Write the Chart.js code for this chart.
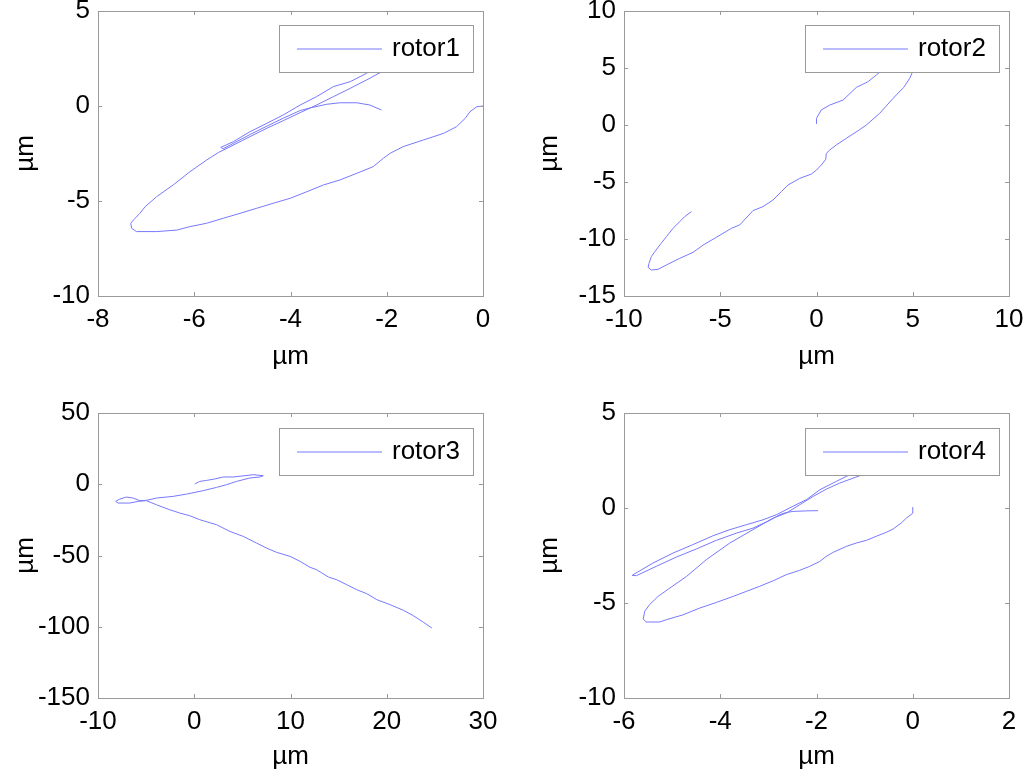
<!DOCTYPE html>
<html>
<head>
<meta charset="utf-8">
<script src="https://cdn.jsdelivr.net/npm/chart.js@4.4.0/dist/chart.umd.min.js"></script>
<style>
  body { margin: 0; background: #fff; }
  #wrap { position: relative; width: 1024px; height: 773px; overflow: hidden; }
  canvas { position: absolute; }
</style>
</head>
<body>
<div id="wrap">
  <canvas id="rotor1" width="512" height="386" style="left:0;top:0"></canvas>
  <canvas id="rotor2" width="512" height="386" style="left:512px;top:0"></canvas>
  <canvas id="rotor3" width="512" height="387" style="left:0;top:386px"></canvas>
  <canvas id="rotor4" width="512" height="387" style="left:512px;top:386px"></canvas>
</div>
<script>
// orbit traces, in µm
let rotor1X = [0, -0.13, -0.27, -0.37, -0.55, -0.82, -1.24, -1.66, -1.93, -2.07, -2.28, -2.62, -2.97, -3.32, -3.66, -4.01, -4.36, -4.70, -5.05, -5.40, -5.74, -6.09, -6.36, -6.78, -7.20, -7.30, -7.32, -7.23, -7.13, -7.02, -6.78, -6.44, -6.09, -5.74, -5.50, -5.30,
  -4.84, -4.49, -4.15, -3.80, -3.46, -3.11, -2.76, -2.42, -2.14, -1.85, -2.05,
  -2.42, -2.76, -3.11, -3.46, -3.80, -4.15, -4.49, -4.84, -5.19, -5.45, -5.40,
  -4.84, -4.49, -4.15, -3.80, -3.59, -3.25, -2.97, -2.62, -2.35, -2.11];
let rotor1Y = [0, -0.04, -0.30, -0.65, -1.09, -1.44, -1.79, -2.14, -2.49, -2.75, -3.19, -3.54, -3.89, -4.16, -4.51, -4.86, -5.12, -5.38, -5.65, -5.91, -6.17, -6.35, -6.53, -6.61, -6.61, -6.44, -6.17, -5.91, -5.65, -5.30, -4.77, -4.16, -3.46, -2.84, -2.45, -2.20,
  -1.61, -1.17, -0.77, -0.35, 0.05, 0.49, 0.93, 1.37, 1.75, 2.15, 2.30,
  1.72, 1.28, 1.02, 0.49, 0.05, -0.47, -0.91, -1.35, -1.88, -2.18, -2.25,
  -1.50, -1.06, -0.64, -0.24, -0.10, 0.09, 0.17, 0.17, 0.05, -0.21];

let rotor2X = [0, 0.0, 0.25, 0.69, 1.38, 2.07, 2.68, 3.11, 3.37, 3.8, 4.5, 5.2, 5.35,
  5.01, 4.84, 4.53, 3.98, 3.28, 2.59, 2.16, 1.55, 1.03, 0.69, 0.51, 0.48, 0.25, 0.0, -0.26, -0.87, -1.48, -1.83, -2.26, -2.78, -3.30, -3.99, -4.42, -5.20, -5.89, -6.41, -7.11, -7.80, -8.23, -8.58, -8.75, -8.70, -8.58, -8.40, -8.14, -7.80, -7.45, -7.11, -6.85, -6.50];
let rotor2Y = [0.1, 0.59, 1.32, 1.75, 2.19, 3.30, 3.80, 4.39, 4.74, 5.5, 6.4, 6.2, 5.6,
  4.74, 4.09, 3.30, 2.34, 1.02, 0.0, -0.50, -1.17, -1.75, -2.19, -2.49, -3.01, -3.51, -3.95, -4.30, -4.68, -5.26, -5.85, -6.58, -7.16, -7.51, -8.77, -9.06, -9.85, -10.53, -11.17, -11.70, -12.28, -12.66, -12.72, -12.49, -12.13, -11.55, -11.11, -10.53, -9.80, -9.06, -8.48, -8.04, -7.60];

let rotor3X = [0.06, 0.58, 1.28, 2.14, 3.01, 4.05, 5.27, 6.13, 7.17, 6.83, 5.79, 4.40, 3.36, 2.32, 0.93, -0.80, -2.19, -3.93, -4.97, -5.66, -6.35, -7.05, -7.74, -8.16, -7.91, -6.70, -5.83, -4.97,
  -3.93, -2.54, -1.50, -0.46, 0.58, 2.32, 3.70, 5.09, 6.48, 7.52, 8.56, 9.95, 10.99, 12.03, 12.72, 13.94, 14.80, 15.84, 16.88, 17.93, 18.97, 20.35, 21.74, 22.78, 23.82, 24.69];
let rotor3Y = [0.2, 2.0, 2.7, 3.7, 5.1, 5.1, 6.0, 6.7, 6.0, 5.1, 4.4, 2.0, -0.3, -2.2, -4.5, -6.9, -8.5, -9.7, -11.3, -11.5, -9.7, -9.0, -10.4, -12.0, -13.2, -13.2, -12.0, -11.5,
  -14.4, -17.9, -20.2, -22.1, -24.9, -28.4, -33.1, -36.6, -41.3, -44.8, -47.8, -50.6, -54.1, -58.3, -60.0, -65.1, -67.0, -70.5, -74.0, -76.8, -81.0, -84.5, -88.5, -92.3, -96.9, -100.9];

let rotor4X = [-1.97, -2.20, -2.49, -2.65,
  -2.76, -2.97, -3.32, -3.66, -4.08, -4.50, -4.91, -5.33, -5.74, -5.83,
  -5.81, -5.40, -4.98, -4.57, -4.15, -3.80, -3.46, -3.11, -2.83, -2.49, -2.21, -1.93, -1.59, -1.24, -0.90, -0.75,
  -1.10, -1.52, -1.79, -2.07, -2.35, -2.63,
  -2.90, -3.32, -3.80, -4.29, -4.70, -5.08, -5.29, -5.47, -5.57, -5.60, -5.54, -5.26, -5.12, -4.77, -4.43, -4.08, -3.73, -3.46, -3.18, -2.90, -2.63, -2.35, -2.14, -1.93, -1.80, -1.66, -1.38, -1.17, -0.96, -0.76, -0.55, -0.41, -0.24, -0.13, 0.0, 0.0];
let rotor4Y = [-0.14, -0.15, -0.18, -0.25,
  -0.35, -0.65, -1.06, -1.32, -1.70, -2.16, -2.58, -3.07, -3.56, -3.55,
  -3.51, -2.90, -2.37, -1.93, -1.46, -1.14, -0.88, -0.62, -0.35, 0.09, 0.44, 0.96, 1.40, 1.84, 2.30, 2.30,
  1.70, 1.31, 1.00, 0.61, 0.17, -0.27,
  -0.53, -1.14, -1.84, -2.72, -3.60, -4.27, -4.65, -5.09, -5.44, -5.84, -6.00, -6.00, -5.88, -5.62, -5.27, -4.97, -4.65, -4.39, -4.12, -3.83, -3.51, -3.28, -3.07, -2.81, -2.55, -2.34, -2.02, -1.84, -1.70, -1.49, -1.28, -1.11, -0.79, -0.53, -0.27, 0.05];

// axis ticks
let xTicks1 = [-8, -6, -4, -2, 0];
let yTicks1 = [-10, -5, 0, 5];
let xTicks2 = [-10, -5, 0, 5, 10];
let yTicks2 = [-15, -10, -5, 0, 5, 10];
let xTicks3 = [-10, 0, 10, 20, 30];
let yTicks3 = [-150, -100, -50, 0, 50];
let xTicks4 = [-6, -4, -2, 0, 2];
let yTicks4 = [-10, -5, 0, 5];

const LINE = "rgb(120,120,255)";
const FRAME = "#9a9a9a";
Chart.defaults.font.family = "'Liberation Sans', Arial, sans-serif";
Chart.defaults.font.size = 26;
Chart.defaults.color = "#000";

// matlab style box with inward ticks plus the legend inside the axes
const axesBox = {
  id: "axesBox",
  afterDraw(chart, args, opts) {
    const ctx = chart.ctx;
    const a = chart.chartArea;
    const xs = chart.scales.x, ys = chart.scales.y;
    ctx.save();
    ctx.strokeStyle = FRAME;
    ctx.lineWidth = 1;
    ctx.strokeRect(Math.round(a.left) + 0.5, Math.round(a.top) + 0.5,
      Math.round(a.right - a.left), Math.round(a.bottom - a.top));
    ctx.beginPath();
    xs.ticks.forEach((t) => {
      const px = Math.round(xs.getPixelForValue(t.value)) + 0.5;
      ctx.moveTo(px, a.bottom); ctx.lineTo(px, a.bottom - 4);
      ctx.moveTo(px, a.top); ctx.lineTo(px, a.top + 4);
    });
    ys.ticks.forEach((t) => {
      const py = Math.round(ys.getPixelForValue(t.value)) + 0.5;
      ctx.moveTo(a.left, py); ctx.lineTo(a.left + 4, py);
      ctx.moveTo(a.right, py); ctx.lineTo(a.right - 4, py);
    });
    ctx.stroke();

    // legend
    const w = 194, h = 47;
    const lx = Math.round(a.right - 10 - w), ly = Math.round(a.top + opts.top);
    ctx.fillStyle = "#fff";
    ctx.fillRect(lx, ly, w, h);
    ctx.strokeStyle = FRAME;
    ctx.strokeRect(lx + 0.5, ly + 0.5, w, h);
    ctx.strokeStyle = LINE;
    ctx.lineWidth = 1.2;
    ctx.beginPath();
    ctx.moveTo(lx + 18, ly + 24);
    ctx.lineTo(lx + 103, ly + 24);
    ctx.stroke();
    ctx.fillStyle = "#000";
    ctx.font = "26px 'Liberation Sans', Arial, sans-serif";
    ctx.textBaseline = "middle";
    ctx.fillText(opts.text, lx + 113, ly + 24);
    ctx.restore();
  },
};

function rotorChart(id, xs, ys, xTicks, yTicks, lay) {
  const points = xs.map((x, i) => ({ x: x, y: ys[i] }));
  return new Chart(document.getElementById(id).getContext("2d"), {
    type: "scatter",
    data: {
      datasets: [
        {
          label: id,
          data: points,
          showLine: true,
          borderColor: LINE,
          borderWidth: 1,
          pointRadius: 0,
          tension: 0,
        },
      ],
    },
    options: {
      responsive: false,
      animation: false,
      devicePixelRatio: 1,
      layout: { padding: { top: lay.padTop, right: lay.padRight, left: 0, bottom: 0 } },
      plugins: {
        legend: { display: false },
        tooltip: { enabled: false },
        axesBox: { text: id, top: lay.legendTop },
      },
      scales: {
        x: {
          type: "linear",
          min: xTicks[0],
          max: xTicks[xTicks.length - 1],
          afterBuildTicks: (s) => { s.ticks = xTicks.map((v) => ({ value: v })); },
          afterFit: (s) => {
            s.height = lay.xHeight;
            s.paddingLeft = 0; s.paddingRight = 0; s.paddingTop = 0; s.paddingBottom = 0;
          },
          grid: { display: false, drawTicks: false },
          border: { display: false },
          ticks: { padding: 8, maxRotation: 0, autoSkip: false, callback: (v) => String(v) },
          title: { display: true, text: "µm", padding: { top: 0, bottom: lay.xTitlePad } },
        },
        y: {
          type: "linear",
          min: yTicks[0],
          max: yTicks[yTicks.length - 1],
          afterBuildTicks: (s) => { s.ticks = yTicks.map((v) => ({ value: v })); },
          afterFit: (s) => {
            s.width = lay.yWidth;
            s.paddingLeft = 0; s.paddingRight = 0; s.paddingTop = 0; s.paddingBottom = 0;
          },
          grid: { display: false, drawTicks: false },
          border: { display: false },
          ticks: { padding: 8, autoSkip: false, callback: (v) => String(v) },
          title: { display: true, text: "µm", padding: { top: lay.yTitlePad, bottom: 0 } },
        },
      },
    },
    plugins: [axesBox],
  });
}

rotorChart("rotor1", rotor1X, rotor1Y, xTicks1, yTicks1,
  { padTop: 11, padRight: 29, yWidth: 98, xHeight: 90, xTitlePad: 14, yTitlePad: 10, legendTop: 14 });
rotorChart("rotor2", rotor2X, rotor2Y, xTicks2, yTicks2,
  { padTop: 11, padRight: 15, yWidth: 112, xHeight: 90, xTitlePad: 14, yTitlePad: 22, legendTop: 14 });
rotorChart("rotor3", rotor3X, rotor3Y, xTicks3, yTicks3,
  { padTop: 27, padRight: 29, yWidth: 98, xHeight: 75, xTitlePad: 1, yTitlePad: 10, legendTop: 15 });
rotorChart("rotor4", rotor4X, rotor4Y, xTicks4, yTicks4,
  { padTop: 27, padRight: 15, yWidth: 112, xHeight: 75, xTitlePad: 1, yTitlePad: 22, legendTop: 15 });
</script>
</body>
</html>
